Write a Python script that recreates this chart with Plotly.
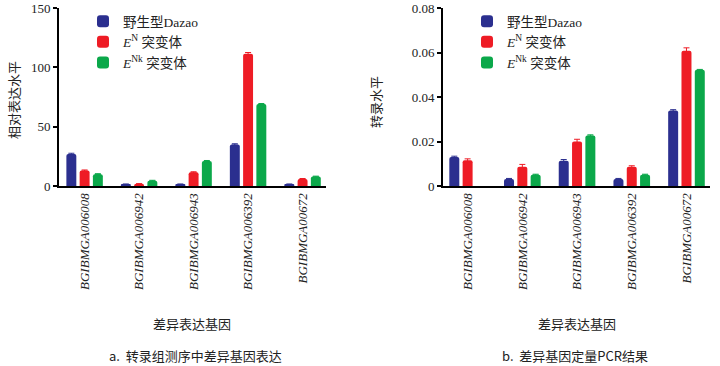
import plotly.graph_objects as go

genes = ["BGIBMGA006008", "BGIBMGA006942", "BGIBMGA006943", "BGIBMGA006392", "BGIBMGA00672"]
series_names = ["野生型Dazao", "<i>E</i><sup>N</sup> 突变体", "<i>E</i><sup>Nk</sup> 突变体"]
colors = ["#2B2F8F", "#EE1C25", "#0BA84A"]

# Panel a: transcriptome relative expression
a_wt = [27, 1.5, 1.5, 35, 1.5]
a_en = [13, 1.8, 11.5, 111.5, 6]
a_enk = [10, 4.5, 21, 69, 8]
a_wt_err = [0.6, 0.2, 0.2, 0.6, 0.2]
a_en_err = [0.5, 0.2, 0.5, 1.0, 0.3]
a_enk_err = [0.4, 0.3, 0.5, 0.5, 0.3]

# Panel b: qPCR transcription level (no bar drawn for ENk at the first gene)
b_wt = [0.0130, 0.0032, 0.0114, 0.0032, 0.0339]
b_en = [0.0116, 0.0087, 0.0200, 0.0087, 0.0608]
b_enk = [None, 0.0051, 0.0227, 0.0051, 0.0522]
b_wt_err = [0.0004, 0.0002, 0.0005, 0.0002, 0.0004]
b_en_err = [0.0006, 0.0010, 0.0010, 0.0004, 0.0013]
b_enk_err = [None, 0.0002, 0.0003, 0.0002, 0.0002]

serif = "Liberation Serif, Times New Roman, Noto Sans CJK SC"
cjk = "Noto Sans CJK SC, Liberation Serif"

fig = go.Figure()
for vals, errs, name, col in zip([a_wt, a_en, a_enk], [a_wt_err, a_en_err, a_enk_err], series_names, colors):
    fig.add_trace(go.Bar(x=genes, y=vals, name=name, marker_color=col, marker_line_width=0,
                         error_y=dict(type="data", array=errs, color=col, thickness=1, width=3),
                         xaxis="x", yaxis="y", legend="legend"))
for vals, errs, name, col in zip([b_wt, b_en, b_enk], [b_wt_err, b_en_err, b_enk_err], series_names, colors):
    fig.add_trace(go.Bar(x=genes, y=vals, name=name, marker_color=col, marker_line_width=0,
                         error_y=dict(type="data", array=errs, color=col, thickness=1, width=3),
                         xaxis="x2", yaxis="y2", legend="legend2"))

W, H = 720, 366
def px(x): return x / W
def py(y): return (H - y) / H

axis_common = dict(showline=True, linecolor="black", linewidth=2, showgrid=False, zeroline=False,
                   ticks="outside", ticklen=4, tickwidth=1.5, tickcolor="black", automargin=False)
xcommon = dict(axis_common, tickangle=-90,
               tickfont=dict(family=serif, size=13, color="#222", style="italic"),
               ticklen=0, ticks="")
yfont = dict(family=serif, size=13, color="#222")
fig.update_layout(
    template="none",
    width=W, height=H, margin=dict(l=0, r=0, t=0, b=0, autoexpand=False),
    paper_bgcolor="white", plot_bgcolor="white",
    barmode="group", bargap=0.27, bargroupgap=0.25, barcornerradius=2,
    xaxis=dict(xcommon, domain=[px(59), px(326)], anchor="y", range=[-0.47, 4.43]),
    yaxis=dict(axis_common, domain=[py(186), py(8)], anchor="x", range=[0, 150],
               tickvals=[0, 50, 100, 150], tickfont=yfont),
    xaxis2=dict(xcommon, domain=[px(443), px(710)], anchor="y2", range=[-0.45, 4.43]),
    yaxis2=dict(axis_common, domain=[py(186), py(8)], anchor="x2", range=[0, 0.08],
                tickvals=[0, 0.02, 0.04, 0.06, 0.08], tickfont=yfont),
    legend=dict(x=px(83), y=py(6), xanchor="left", yanchor="top", bgcolor="rgba(0,0,0,0)",
                font=dict(family=serif, size=13.5, color="#222"), tracegroupgap=0, itemwidth=30),
    legend2=dict(x=px(467), y=py(6), xanchor="left", yanchor="top", bgcolor="rgba(0,0,0,0)",
                 font=dict(family=serif, size=13.5, color="#222"), tracegroupgap=0, itemwidth=30),
    showlegend=True,
)

ann = [
    dict(text="相对表达水平", x=px(14), y=py(100), textangle=-90),
    dict(text="转录水平", x=px(376), y=py(102), textangle=-90),
    dict(text="差异表达基因", x=px(192), y=py(323)),
    dict(text="差异表达基因", x=px(577), y=py(323)),
    dict(text="a.  转录组测序中差异基因表达", x=px(196), y=py(355)),
    dict(text="b.  差异基因定量PCR结果", x=px(575), y=py(355)),
]
for a in ann:
    fig.add_annotation(xref="paper", yref="paper", showarrow=False, xanchor="center", yanchor="middle",
                       font=dict(family=cjk, size=13, color="#222"), **a)

fig.write_html("out.html", config={"displayModeBar": False},
               post_script="document.body.style.margin='0px';document.body.style.overflow='hidden';")
